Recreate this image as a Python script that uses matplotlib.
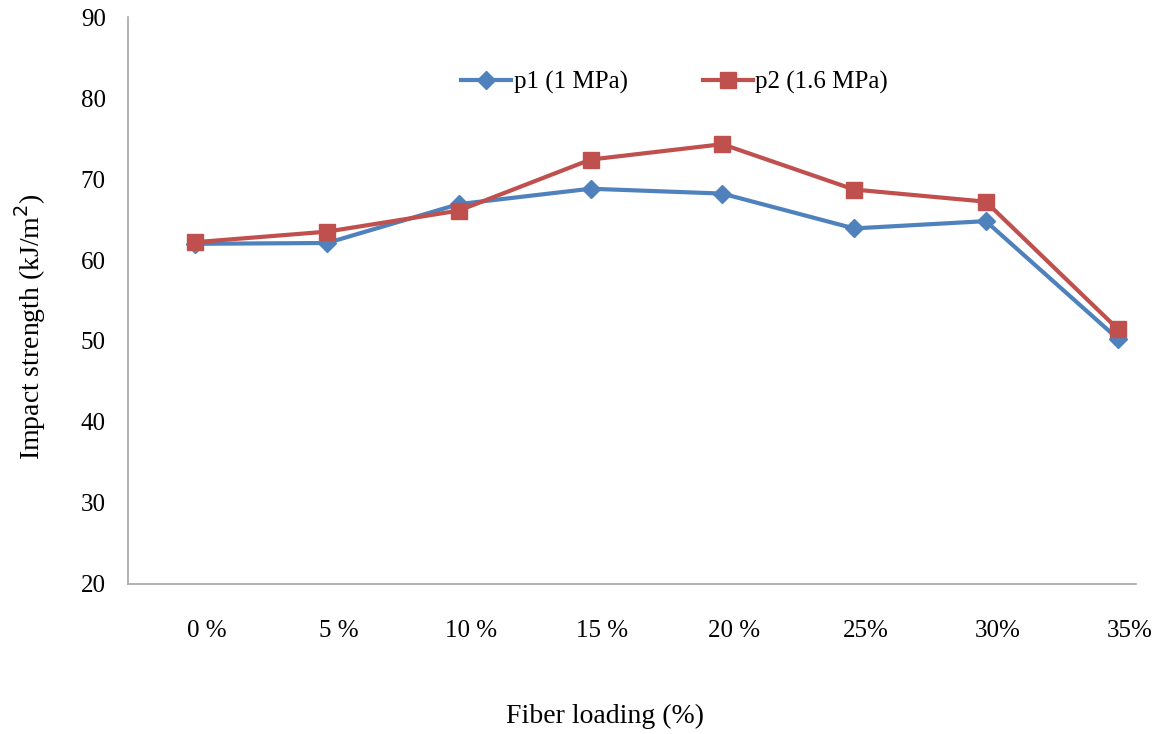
import matplotlib
matplotlib.use('Agg')
import matplotlib.pyplot as plt
import matplotlib.transforms as mtransforms

# 纤维含量与冲击强度
loading_labels = ['0 %', '5 %', '10 %', '15 %', '20 %', '25%', '30%', '35%']
p1_values = [62.0, 62.1, 66.9, 68.8, 68.2, 63.9, 64.8, 50.3]
p2_values = [62.2, 63.5, 66.1, 72.4, 74.3, 68.7, 67.2, 51.5]
y_ticks = [20, 30, 40, 50, 60, 70, 80, 90]

plt.rcParams['font.family'] = ['Liberation Serif', 'DejaVu Serif']

fig = plt.figure(figsize=(11.61, 7.34), dpi=100)
ax = fig.add_axes([0.1103, 0.2044, 0.8682, 0.7724])

x = list(range(len(loading_labels)))
ax.plot(x, p1_values, color='#4F81BD', lw=3, marker='D', markersize=9,
        label='p1 (1 MPa)')
ax.plot(x, p2_values, color='#C0504D', lw=3, marker='s', markersize=11,
        label='p2 (1.6 MPa)')

ax.set_xlim(-0.51, 7.14)
ax.set_ylim(20, 90)
ax.set_yticks(y_ticks)
ax.set_xticks(x)
ax.set_xticklabels(loading_labels)
ax.tick_params(axis='both', length=0, labelsize=18)
ax.tick_params(axis='y', pad=16)
ax.tick_params(axis='x', pad=26)

# 横轴标签稍微右移
offset = mtransforms.ScaledTranslation(0.12, 0, fig.dpi_scale_trans)
for lbl in ax.get_xticklabels():
    lbl.set_transform(lbl.get_transform() + offset)

for side in ['top', 'right']:
    ax.spines[side].set_visible(False)
for side in ['left', 'bottom']:
    ax.spines[side].set_color('#A6A6A6')
    ax.spines[side].set_linewidth(1.2)

fig.text(0.026, 0.555, 'Impact strength (kJ/m$^2$)', fontsize=20, rotation=90,
         ha='center', va='center')
fig.text(0.521, 0.024, 'Fiber loading (%)', fontsize=20, ha='center', va='center')

ax.legend(loc='center', bbox_to_anchor=(0.581, 0.888), bbox_transform=fig.transFigure,
          ncol=2, frameon=False, fontsize=18, handlelength=2.0, handletextpad=0.1,
          columnspacing=3.0)

fig.savefig('out.png', dpi=100)
